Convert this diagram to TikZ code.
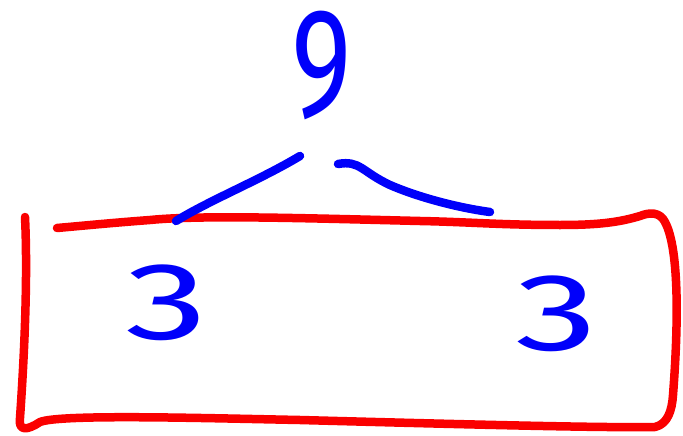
\documentclass[tikz,border=0pt]{standalone}
\usepackage{fontspec}
\setmainfont{Fira Sans}
\definecolor{penblue}{RGB}{0,0,250}
\definecolor{penred}{RGB}{250,0,0}
\begin{document}
\begin{tikzpicture}[x=1pt,y=-1pt,
  redpen/.style={draw=penred,line width=8.5pt,line cap=round,line join=round},
  bluepen/.style={draw=penblue,line width=8.5pt,line cap=round,line join=round},
  digit/.style={text=penblue,inner sep=0pt,font=\fontsize{110}{110}\selectfont}]
\useasboundingbox[fill=white] (0,0) rectangle (683,436);
% box
\draw[redpen] (25,217) .. controls (28,280) and (24,360) .. (20,418)
  .. controls (18,432) and (28,430) .. (40,422)
  .. controls (60,414) and (200,418) .. (300,420)
  .. controls (450,424) and (600,428) .. (655,427)
  .. controls (668,424) and (672,410) .. (673,395)
  .. controls (678,330) and (680,250) .. (665,222)
  .. controls (660,212) and (650,212) .. (640,216)
  .. controls (620,222) and (600,225) .. (560,225)
  .. controls (500,225) and (470,222) .. (420,221)
  .. controls (300,218) and (200,215) .. (150,220)
  .. controls (110,223) and (80,226) .. (57,228);
% digits
\node[digit,font=\fontsize{115}{115}\selectfont,yscale=1.35] (nine) at (322,66) {9};
\node[digit,xscale=1.5] (threeL) at (167,303) {3};
\node[digit,xscale=1.5] (threeR) at (557,314) {3};
% branch lines
\coordinate (la) at (300,156);
\coordinate (lb) at (176,221);
\coordinate (ra) at (338,164);
\coordinate (rb) at (490,212);
\draw[bluepen] (la) .. controls (260,180) and (210,200) .. (lb);
\draw[bluepen] (ra) .. controls (360,160) and (362,172) .. (390,185)
  .. controls (420,198) and (460,208) .. (rb);
\end{tikzpicture}
\end{document}
